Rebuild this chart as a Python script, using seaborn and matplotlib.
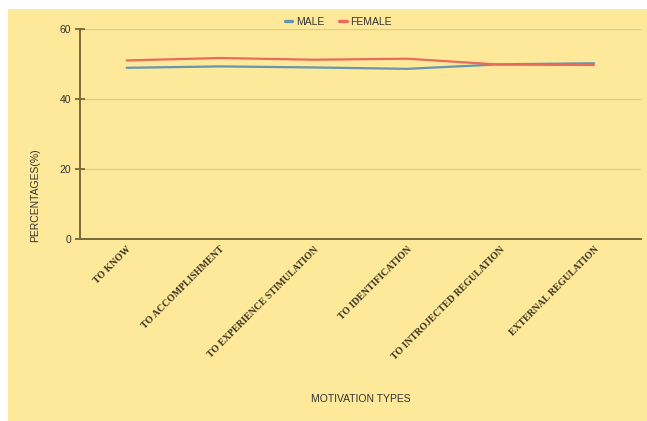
import matplotlib
matplotlib.use("Agg")
import matplotlib.pyplot as plt
from matplotlib.patches import Rectangle
import pandas as pd
import seaborn as sns

categories = [
    "TO KNOW",
    "TO ACCOMPLISHMENT",
    "TO EXPERIENCE STIMULATION",
    "TO IDENTIFICATION",
    "TO INTROJECTED REGULATION",
    "EXTERNAL REGULATION",
]
male = [49.0, 49.4, 49.1, 48.7, 50.0, 50.3]
female = [51.1, 51.8, 51.3, 51.6, 49.9, 49.8]
series_names = ["MALE", "FEMALE"]
y_ticks = [0, 20, 40, 60]

df = pd.DataFrame({
    "type": categories * 2,
    "value": male + female,
    "gender": [series_names[0]] * len(categories) + [series_names[1]] * len(categories),
})

sns.set_theme(style="white")
plt.rcParams["font.family"] = ["Liberation Sans", "DejaVu Sans"]

W, H = 647, 421
fig = plt.figure(figsize=(W / 100, H / 100), dpi=100, facecolor="white")
bg = "#fee99a"
fig.patches.append(Rectangle((8 / W, 0), 1 - 8 / W, 1 - 9 / H,
                             transform=fig.transFigure, facecolor=bg,
                             edgecolor="none", zorder=-10))

left, right, top, bottom = 80, 640.7, 29.3, 239.3
ax = fig.add_axes([left / W, 1 - bottom / H, (right - left) / W, (bottom - top) / H])
ax.set_facecolor("none")

palette = {"MALE": "#6197b0", "FEMALE": "#ea6a5c"}
sns.lineplot(data=df, x="type", y="value", hue="gender", palette=palette,
             sort=False, linewidth=1.6, ax=ax, legend=True)

ax.set_xlim(-0.5, len(categories) - 0.5)
ax.set_ylim(0, 60)
ax.set_yticks(y_ticks)
ax.set_yticklabels([str(t) for t in y_ticks], fontsize=7.5, color="#333333")
ax.yaxis.grid(True, color="#e2cd84", linewidth=1.0)
ax.set_axisbelow(True)

for s in ["top", "right"]:
    ax.spines[s].set_visible(False)
for s in ["left", "bottom"]:
    ax.spines[s].set_color("#7a6a38")
    ax.spines[s].set_linewidth(1.4)

ax.tick_params(axis="y", direction="inout", length=7, width=1.2,
               color="#6b5c2e", pad=3, left=True)
ax.tick_params(axis="x", length=0, pad=4)
ax.set_xticks(range(len(categories)))
ax.set_xticklabels(categories, rotation=45, ha="right", rotation_mode="anchor",
                   fontsize=7, family="Liberation Serif", fontweight="bold",
                   color="#3a3320")

ax.set_ylabel("PERCENTAGES(%)", fontsize=7.5, color="#333333")
ax.yaxis.set_label_coords(-0.072, 0.21)
ax.set_xlabel("MOTIVATION TYPES", fontsize=7.5, color="#333333")
ax.xaxis.set_label_coords(0.5, -0.737)

leg = ax.legend(loc="center", bbox_to_anchor=(0.461, (bottom - 22) / (bottom - top)),
                ncol=2, frameon=False, fontsize=7.5, handlelength=0.7,
                handletextpad=0.35, columnspacing=1.45)
for line in leg.get_lines():
    line.set_linewidth(2.4)
for t in leg.get_texts():
    t.set_color("#333333")

fig.savefig("out.png", dpi=100, facecolor=fig.get_facecolor())
